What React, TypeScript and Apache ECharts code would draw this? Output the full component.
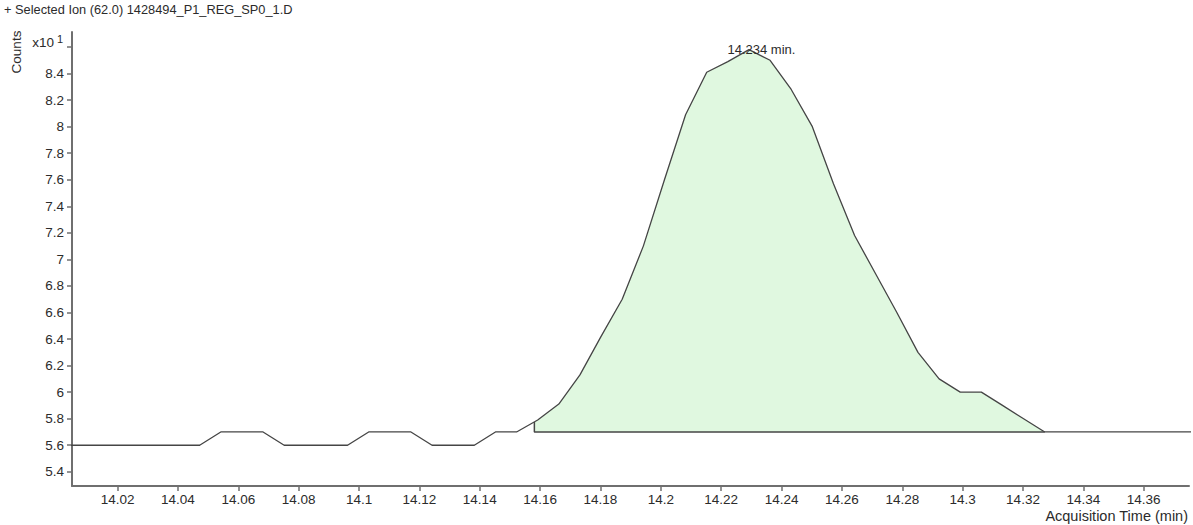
import React, { useEffect, useRef } from "react";
import * as echarts from "echarts";

const TITLE = "+ Selected Ion (62.0) 1428494_P1_REG_SP0_1.D";
const Y_NAME = "Counts";
const Y_MULT = "x10";
const Y_EXP = "1";
const X_NAME = "Acquisition Time (min)";
const PEAK_LABEL = "14.234 min.";
const PEAK_RT = 14.234;
const PEAK_LABEL_Y = 8.59;

const X_MIN = 14.0049;
const X_MAX = 14.375;
const Y_MIN = 5.293;
const Y_MAX = 8.713;

const xTicks = [14.02, 14.04, 14.06, 14.08, 14.1, 14.12, 14.14, 14.16, 14.18, 14.2, 14.22, 14.24, 14.26, 14.28, 14.3, 14.32, 14.34, 14.36];
const yTicks = [5.4, 5.6, 5.8, 6, 6.2, 6.4, 6.6, 6.8, 7, 7.2, 7.4, 7.6, 7.8, 8, 8.2, 8.4];
const yExpTick = 8.6;

const times = [
  13.9982, 14.0052, 14.0122, 14.0192, 14.0262, 14.0332, 14.0402, 14.0472,
  14.0542, 14.0612, 14.0682, 14.0752, 14.0822, 14.0892, 14.0962, 14.1032,
  14.1102, 14.1172, 14.1242, 14.1312, 14.1382, 14.1452, 14.1522, 14.1592,
  14.1662, 14.1732, 14.1802, 14.1872, 14.1942, 14.2012, 14.2082, 14.2152,
  14.2222, 14.2292, 14.2362, 14.2432, 14.2502, 14.2572, 14.2642, 14.2712,
  14.2782, 14.2852, 14.2922, 14.2992, 14.3062, 14.3132, 14.3202, 14.3272,
  14.3342, 14.3412, 14.3482, 14.3552, 14.3622, 14.3692, 14.3762, 14.3832,
];
const counts = [
  5.6, 5.6, 5.6, 5.6, 5.6, 5.6, 5.6, 5.6,
  5.7, 5.7, 5.7, 5.6, 5.6, 5.6, 5.6, 5.7,
  5.7, 5.7, 5.6, 5.6, 5.6, 5.7, 5.7, 5.79,
  5.91, 6.13, 6.42, 6.7, 7.1, 7.6, 8.09, 8.41,
  8.49, 8.58, 8.5, 8.28, 8.0, 7.57, 7.18, 6.89,
  6.6, 6.3, 6.1, 6.0, 6.0, 5.9, 5.8, 5.7,
  5.7, 5.7, 5.7, 5.7, 5.7, 5.7, 5.7, 5.7,
];

const INTEG_START = 14.1581;
const INTEG_END = 14.3272;
const INTEG_BASE = 5.7;

const FONT = "'Liberation Sans', Arial, sans-serif";
const TEXT_COLOR = "#2b2b2b";
const AXIS_COLOR = "#6f6f6f";
const LINE_COLOR = "#454545";
const FILL_COLOR = "#e0f8e0";

function valueAt(t: number): number {
  for (let i = 0; i < times.length - 1; i++) {
    if (t >= times[i] && t <= times[i + 1]) {
      const f = (t - times[i]) / (times[i + 1] - times[i]);
      return counts[i] + f * (counts[i + 1] - counts[i]);
    }
  }
  return counts[counts.length - 1];
}

export default function App() {
  const ref = useRef<HTMLDivElement>(null);

  useEffect(() => {
    if (!ref.current) return;
    const chart = echarts.init(ref.current, null, { renderer: "svg" });

    const trace = times.map((t, i) => [t, counts[i]]);
    const startVal = valueAt(INTEG_START);
    const fillData: number[][] = [[INTEG_START, startVal]];
    times.forEach((t, i) => {
      if (t > INTEG_START && t <= INTEG_END + 1e-9) fillData.push([t, counts[i]]);
    });
    const baseData = [
      [INTEG_START, startVal],
      [INTEG_START, INTEG_BASE],
      [INTEG_END, INTEG_BASE],
    ];

    const fmtX = (v: number) => String(+v.toFixed(2));
    const fmtY = (v: number) => String(+v.toFixed(1));

    chart.setOption({
      animation: false,
      backgroundColor: "#ffffff",
      textStyle: { fontFamily: FONT },
      grid: {
        left: 72,
        right: 4,
        top: 32,
        bottom: 39,
        containLabel: false,
        outerBoundsMode: "none",
      },
      xAxis: {
        type: "value",
        min: X_MIN,
        max: X_MAX,
        axisLine: { show: true, onZero: false, lineStyle: { color: AXIS_COLOR, width: 2 } },
        axisTick: {
          show: true,
          length: 5,
          customValues: xTicks,
          lineStyle: { color: AXIS_COLOR, width: 1.5 },
        },
        axisLabel: {
          customValues: xTicks,
          formatter: fmtX,
          color: TEXT_COLOR,
          fontSize: 13.5,
          fontFamily: FONT,
          margin: 6,
        },
        splitLine: { show: false },
      },
      yAxis: {
        type: "value",
        min: Y_MIN,
        max: Y_MAX,
        axisLine: { show: true, onZero: false, lineStyle: { color: AXIS_COLOR, width: 2 } },
        axisTick: {
          show: true,
          length: 5,
          customValues: [...yTicks, yExpTick],
          lineStyle: { color: AXIS_COLOR, width: 1.5 },
        },
        axisLabel: {
          customValues: yTicks,
          formatter: fmtY,
          color: TEXT_COLOR,
          fontSize: 13.5,
          fontFamily: FONT,
          margin: 8,
        },
        splitLine: { show: false },
      },
      series: [
        {
          type: "line",
          data: fillData,
          showSymbol: false,
          symbol: "none",
          lineStyle: { width: 0, opacity: 0 },
          areaStyle: { color: FILL_COLOR, opacity: 1, origin: INTEG_BASE },
          z: 1,
          silent: true,
        },
        {
          type: "line",
          data: baseData,
          showSymbol: false,
          symbol: "none",
          lineStyle: { color: LINE_COLOR, width: 1.5 },
          z: 2,
          silent: true,
        },
        {
          type: "line",
          data: trace,
          showSymbol: false,
          symbol: "none",
          clip: true,
          lineStyle: { color: LINE_COLOR, width: 1.3 },
          z: 3,
          silent: true,
          markPoint: {
            symbol: "circle",
            symbolSize: 0,
            silent: true,
            data: [
              {
                coord: [PEAK_RT, PEAK_LABEL_Y],
                label: {
                  show: true,
                  position: "inside",
                  formatter: PEAK_LABEL,
                  color: TEXT_COLOR,
                  fontSize: 13,
                  fontFamily: FONT,
                  offset: [-2, 1],
                },
              },
            ],
          },
        },
      ],
      graphic: [
        {
          type: "text",
          left: 4,
          top: 3,
          style: { text: TITLE, fill: TEXT_COLOR, font: `12.8px ${FONT}` },
        },
        {
          type: "text",
          x: 16,
          y: 52,
          rotation: Math.PI / 2,
          style: {
            text: Y_NAME,
            fill: TEXT_COLOR,
            font: `13.5px ${FONT}`,
            align: "center",
            verticalAlign: "middle",
          },
        },
        {
          type: "text",
          x: 54,
          y: 42,
          style: {
            text: Y_MULT,
            fill: TEXT_COLOR,
            font: `13.5px ${FONT}`,
            align: "right",
            verticalAlign: "middle",
          },
        },
        {
          type: "text",
          x: 57,
          y: 39,
          style: {
            text: Y_EXP,
            fill: TEXT_COLOR,
            font: `11px ${FONT}`,
            align: "left",
            verticalAlign: "middle",
          },
        },
        {
          type: "text",
          x: 1188,
          y: 516,
          style: {
            text: X_NAME,
            fill: TEXT_COLOR,
            font: `14.5px ${FONT}`,
            align: "right",
            verticalAlign: "middle",
          },
        },
      ],
    });

    return () => chart.dispose();
  }, []);

  return (
    <div
      ref={ref}
      style={{ position: "fixed", left: 0, top: 0, width: 1193, height: 525, background: "#fff" }}
    />
  );
}
